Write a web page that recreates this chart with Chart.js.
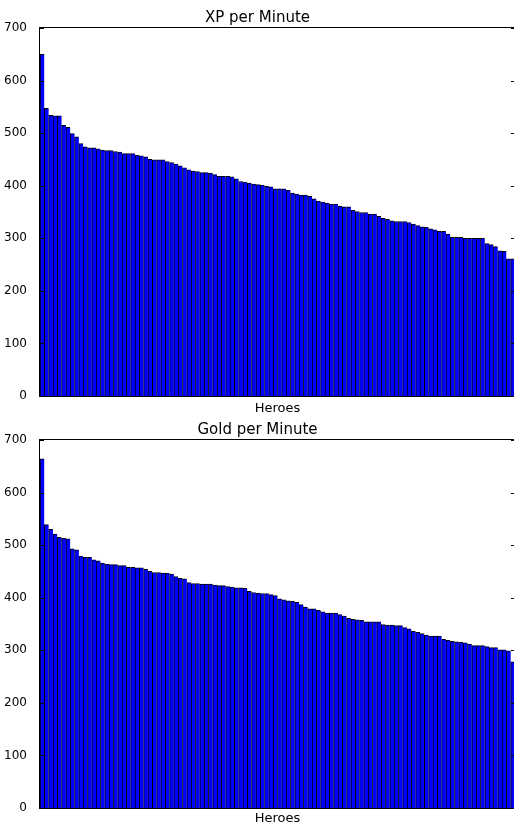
<!DOCTYPE html>
<html>
<head>
<meta charset="utf-8">
<script src="https://cdn.jsdelivr.net/npm/chart.js@4/dist/chart.umd.min.js"></script>
<style>
  html, body { margin: 0; padding: 0; background: #fff; overflow: hidden; width: 514px; height: 825px; }
  .box { position: absolute; left: 0; }
  #box1 { top: 0; }
  #box2 { top: 408px; }
</style>
</head>
<body>
<div class="box" id="box1"><canvas id="xpChart" width="520" height="420"></canvas></div>
<div class="box" id="box2"><canvas id="goldChart" width="520" height="422"></canvas></div>
<script>
// heroes sorted separately for each stat, names not shown on the axis
let heroes = Array.from({ length: 110 }, (_, i) => 'Hero ' + (i + 1));

let xpPerMin = [
    650, 547, 534, 533, 533, 515, 511, 499, 493, 480,
    474, 472, 472, 470, 468, 467, 467, 465, 464, 461,
    461, 461, 458, 457, 455, 450, 449, 449, 449, 446,
    444, 441, 438, 434, 430, 428, 427, 425, 425, 424,
    421, 418, 418, 418, 417, 413, 408, 407, 405, 403,
    402, 401, 399, 398, 394, 394, 394, 391, 386, 384,
    382, 382, 380, 375, 371, 369, 367, 365, 365, 361,
    360, 360, 353, 351, 349, 349, 346, 346, 342, 338,
    336, 333, 332, 332, 332, 330, 327, 324, 322, 321,
    318, 316, 313, 313, 308, 302, 302, 302, 300, 300,
    300, 300, 300, 290, 288, 284, 276, 275, 261, 261
];

let goldPerMin = [
    664, 539, 530, 521, 515, 513, 512, 493, 491, 479,
    477, 477, 472, 470, 466, 464, 463, 463, 461, 461,
    458, 458, 457, 457, 454, 450, 448, 448, 447, 447,
    445, 440, 437, 436, 429, 427, 427, 426, 426, 426,
    424, 423, 423, 421, 420, 419, 419, 418, 412, 410,
    409, 408, 408, 406, 404, 398, 396, 394, 393, 391,
    387, 382, 379, 379, 376, 373, 371, 371, 371, 368,
    365, 361, 359, 358, 357, 354, 354, 354, 354, 349,
    348, 348, 347, 347, 343, 341, 336, 334, 332, 329,
    327, 327, 327, 321, 319, 317, 316, 315, 314, 312,
    309, 309, 309, 307, 305, 305, 301, 301, 299, 278
];

let yTicks = [0, 100, 200, 300, 400, 500, 600, 700];

// box round the plot plus inward ticks on both sides, like matplotlib
const frame = {
    id: 'frame',
    afterDatasetsDraw(chart) {
        const { ctx, chartArea: a, scales: { y } } = chart;
        ctx.save();
        ctx.strokeStyle = '#000';
        ctx.lineWidth = 1;
        ctx.strokeRect(a.left - 0.5, a.top - 0.5, a.right - a.left + 1, a.bottom - a.top + 1);
        ctx.beginPath();
        y.ticks.forEach((t) => {
            const py = Math.round(y.getPixelForValue(t.value)) + 0.5;
            ctx.moveTo(a.left, py);
            ctx.lineTo(a.left + 4, py);
            ctx.moveTo(a.right, py);
            ctx.lineTo(a.right - 4, py);
        });
        ctx.stroke();
        ctx.restore();
    }
};

function makeChart(id, title, values, xAxisHeight, titleTop) {
    const ctx = document.getElementById(id).getContext('2d');
    return new Chart(ctx, {
        type: 'bar',
        data: {
            labels: heroes,
            datasets: [{
                data: values,
                backgroundColor: '#0000ff',
                borderColor: '#000000',
                borderWidth: { top: 1, left: 1, right: 0, bottom: 0 },
                borderSkipped: 'start',
                barPercentage: 1,
                categoryPercentage: 1
            }]
        },
        plugins: [frame],
        options: {
            responsive: false,
            animation: false,
            layout: { padding: { left: 0, right: 5, top: 0, bottom: 0 } },
            plugins: {
                legend: { display: false },
                tooltip: { enabled: false },
                title: {
                    display: true,
                    text: title,
                    color: '#000',
                    font: { family: 'DejaVu Sans', size: 15, weight: 'normal', lineHeight: 1.2 },
                    padding: { top: titleTop, bottom: 1 }
                }
            },
            scales: {
                x: {
                    grid: { display: false },
                    border: { display: false },
                    ticks: { display: false },
                    title: {
                        display: true,
                        text: 'Heroes',
                        color: '#000',
                        font: { family: 'DejaVu Sans', size: 13, lineHeight: 1.2 },
                        padding: { top: 0, bottom: 4 }
                    },
                    afterFit: (s) => { s.height = xAxisHeight; }
                },
                y: {
                    min: 0,
                    max: 700,
                    grid: { display: false },
                    border: { display: false },
                    afterBuildTicks: (s) => { s.ticks = yTicks.map((v) => ({ value: v })); },
                    ticks: {
                        color: '#000',
                        padding: 5,
                        font: { family: 'DejaVu Sans', size: 12 }
                    },
                    afterFit: (s) => { s.width = 40; }
                }
            }
        }
    });
}

makeChart('xpChart', 'XP per Minute', xpPerMin, 24, 9);
makeChart('goldChart', 'Gold per Minute', goldPerMin, 22, 13);
</script>
</body>
</html>
